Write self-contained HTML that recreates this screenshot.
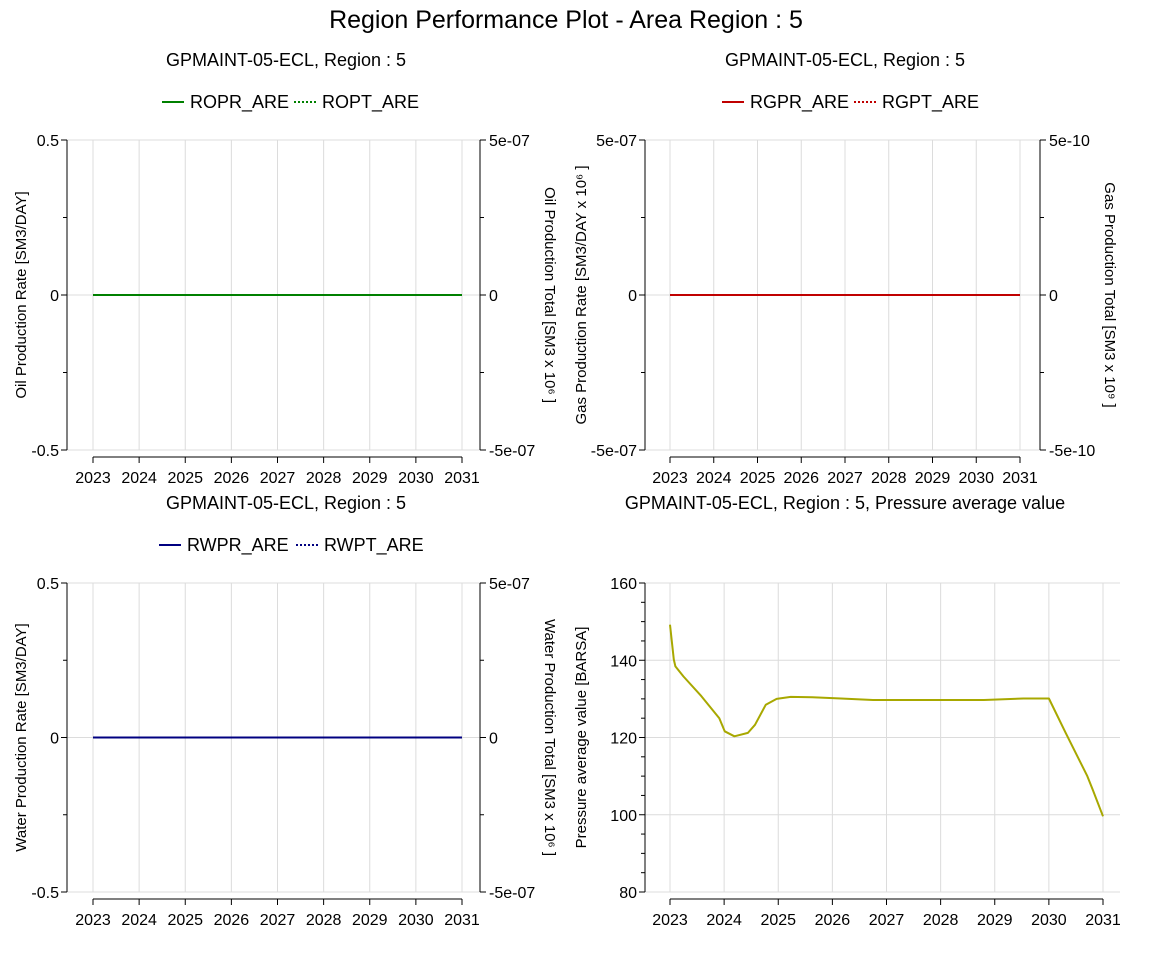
<!DOCTYPE html>
<html><head><meta charset="utf-8"><style>
body{margin:0;background:#fff;width:1152px;height:957px;overflow:hidden;font-family:"Liberation Sans","DejaVu Sans",sans-serif}
svg text{font-family:"Liberation Sans","DejaVu Sans",sans-serif;fill:#000}
</style></head><body>
<svg id="s" width="1152" height="957" xmlns="http://www.w3.org/2000/svg">
<text x="566" y="28" font-size="25" text-anchor="middle">Region Performance Plot - Area Region : 5</text>
</svg>
<script>
const years=[2023,2024,2025,2026,2027,2028,2029,2030,2031];
const zeroSeriesX=[2023,2031];
const oilRate=[0,0];const oilTotal=[0,0];
const gasRate=[0,0];const gasTotal=[0,0];
const waterRate=[0,0];const waterTotal=[0,0];
const pressX=[2023.0,2023.07,2023.1,2023.25,2023.58,2023.91,2024.01,2024.19,2024.44,2024.57,2024.77,2024.97,2025.23,2025.63,2026.16,2026.75,2028.8,2029.53,2030.0,2030.31,2030.71,2030.81,2031.0];
const pressY=[149.2,140.2,138.4,135.8,130.7,125.0,121.6,120.3,121.2,123.3,128.5,130.0,130.5,130.4,130.1,129.7,129.7,130.1,130.1,121.2,110,106.5,99.6];
const rateTicks=["-0.5","0","0.5"];const rateTickVals=[-0.5,0,0.5];
const tot7Ticks=["-5e-07","0","5e-07"];const tot10Ticks=["-5e-10","0","5e-10"];
const gasRateTicks=["-5e-07","0","5e-07"];
const pressTickVals=[80,100,120,140,160];

const S=document.getElementById('s');const NS='http://www.w3.org/2000/svg';
function el(t,a,p){const e=document.createElementNS(NS,t);for(const k in a)e.setAttribute(k,a[k]);(p||S).appendChild(e);return e;}
function txt(x,y,s,a,p){const e=el('text',Object.assign({x:x,y:y},a),p);e.textContent=s;return e;}

function chart(c){
  const g=el('g',{});
  
  
  const X=v=>c.xa+(v-2023)/8*(c.xb-c.xa);
  const Y=v=>c.yb-(v-c.ymin)/(c.ymax-c.ymin)*(c.yb-c.yt);
  const right=c.right||c.gridR;
  years.forEach(y=>{el('line',{x1:X(y),x2:X(y),y1:c.yt,y2:c.yb,stroke:'#dcdcdc','stroke-width':1},g);});
  c.ticks.forEach((v,i)=>{const yy=Y(v);
    el('line',{x1:c.xl,x2:right,y1:yy,y2:yy,stroke:'#dcdcdc','stroke-width':1},g);
    el('line',{x1:c.xl-6,x2:c.xl,y1:yy,y2:yy,stroke:'#000'},g);
    const t=txt(c.xl-8,yy+6,c.tickLabels[i],{'font-size':16,'text-anchor':'end'},g);
    
    
  });
  c.minor.forEach(v=>{const yy=Y(v);el('line',{x1:c.xl-4,x2:c.xl,y1:yy,y2:yy,stroke:'#000'},g);});
  el('line',{x1:c.xl,x2:c.xl,y1:c.yt,y2:c.yb,stroke:'#000'},g);
  if(c.right){
    el('line',{x1:c.right,x2:c.right,y1:c.yt,y2:c.yb,stroke:'#000'},g);
    c.ticks.forEach((v,i)=>{const yy=Y(v);el('line',{x1:c.right,x2:c.right+6,y1:yy,y2:yy,stroke:'#000'},g);
      const t=txt(c.right+9,yy+6,c.rLabels[i],{'font-size':16},g);
      
      });
    c.minor.forEach(v=>{const yy=Y(v);el('line',{x1:c.right,x2:c.right+4,y1:yy,y2:yy,stroke:'#000'},g);});
    const rt=txt(0,0,c.rTitle,{'font-size':15,transform:`translate(${c.right+65},${(c.yt+c.yb)/2}) rotate(90)`,'text-anchor':'middle'},g);
    
    
  }
  const xy=c.yb+7;
  el('line',{x1:X(2023),x2:X(2031),y1:xy,y2:xy,stroke:'#000'},g);
  years.forEach(y=>{el('line',{x1:X(y),x2:X(y),y1:xy,y2:xy+6,stroke:'#000'},g);
    const t=txt(X(y),xy+26,String(y),{'font-size':16,'text-anchor':'middle'},g);
    
    });
  const lt=txt(0,0,c.lTitle,{'font-size':15,transform:`translate(${c.lTitleX},${(c.yt+c.yb)/2}) rotate(-90)`,'text-anchor':'middle'},g);
  
  
  const st=txt(c.titleX,c.yt-74,c.title,{'font-size':18,'text-anchor':'middle'},g);
  
  
  c.series.forEach(s=>{
    const d=s.x.map((v,i)=>(i?'L':'M')+X(v).toFixed(1)+' '+(s.yf?s.yf(s.y[i]):Y(s.y[i])).toFixed(1)).join(' ');
    const p=el('path',{d:d,fill:'none',stroke:s.color,'stroke-width':2,'stroke-dasharray':s.dash||'none','stroke-linejoin':'round'},g);
    
    
  });
  if(c.legend){let lx=c.legendX;c.legend.forEach(L=>{
    el('line',{x1:lx,x2:lx+22,y1:c.yt-38,y2:c.yt-38,stroke:L.color,'stroke-width':2,'stroke-dasharray':L.dash||'none'},g);
    const t=txt(lx+28,c.yt-32,L.label,{'font-size':18},g);
    
    
    lx+=L.w;});}
}
function zeroY(yt,yb){return v=>(yt+yb)/2-v;}
chart({name:'oil-chart',xl:67,right:480,xa:93,xb:462,yt:140,yb:450,ymin:-0.5,ymax:0.5,ticks:rateTickVals,tickLabels:rateTicks,rLabels:tot7Ticks,minor:[-0.25,0.25],lTitleX:26,
 lTitle:'Oil Production Rate [SM3/DAY]',rTitle:'Oil Production Total [SM3 x 10⁶ ]',title:'GPMAINT-05-ECL, Region : 5',titleX:286,legendX:162,
 legend:[{label:'ROPR_ARE',color:'#008000',w:132},{label:'ROPT_ARE',color:'#008000',dash:'2,2'}],
 series:[{name:'ropt-line',x:zeroSeriesX,y:oilTotal,color:'#008000',dash:'2,2',yf:zeroY(140,450)},{name:'ropr-line',x:zeroSeriesX,y:oilRate,color:'#008000'}]});
chart({name:'gas-chart',xl:645,right:1040,xa:670,xb:1020,yt:140,yb:450,ymin:-0.5,ymax:0.5,ticks:rateTickVals,tickLabels:gasRateTicks,rLabels:tot10Ticks,minor:[-0.25,0.25],lTitleX:586,
 lTitle:'Gas Production Rate [SM3/DAY x 10⁶ ]',rTitle:'Gas Production Total [SM3 x 10⁹ ]',title:'GPMAINT-05-ECL, Region : 5',titleX:845,legendX:722,
 legend:[{label:'RGPR_ARE',color:'#c00000',w:132},{label:'RGPT_ARE',color:'#c00000',dash:'2,2'}],
 series:[{name:'rgpt-line',x:zeroSeriesX,y:gasTotal,color:'#c00000',dash:'2,2',yf:zeroY(140,450)},{name:'rgpr-line',x:zeroSeriesX,y:gasRate,color:'#c00000'}]});
chart({name:'water-chart',xl:67,right:480,xa:93,xb:462,yt:583,yb:892,ymin:-0.5,ymax:0.5,ticks:rateTickVals,tickLabels:rateTicks,rLabels:tot7Ticks,minor:[-0.25,0.25],lTitleX:26,
 lTitle:'Water Production Rate [SM3/DAY]',rTitle:'Water Production Total [SM3 x 10⁶ ]',title:'GPMAINT-05-ECL, Region : 5',titleX:286,legendX:159,
 legend:[{label:'RWPR_ARE',color:'#000080',w:137},{label:'RWPT_ARE',color:'#000080',dash:'2,2'}],
 series:[{name:'rwpr-line',x:zeroSeriesX,y:waterRate,color:'#000080'},{name:'rwpt-line',x:zeroSeriesX,y:waterTotal,color:'#000080',dash:'2,2',yf:zeroY(583,892)}]});
chart({name:'pressure-chart',xl:645,gridR:1120,xa:670,xb:1103,yt:583,yb:892,ymin:80,ymax:160,ticks:pressTickVals,tickLabels:pressTickVals.map(String),minor:[85,90,95,105,110,115,125,130,135,145,150,155],lTitleX:586,
 lTitle:'Pressure average value [BARSA]',title:'GPMAINT-05-ECL, Region : 5, Pressure average value',titleX:845,
 series:[{name:'pressure-line',x:pressX,y:pressY,color:'#a8a800'}]});
</script>
</body></html>
